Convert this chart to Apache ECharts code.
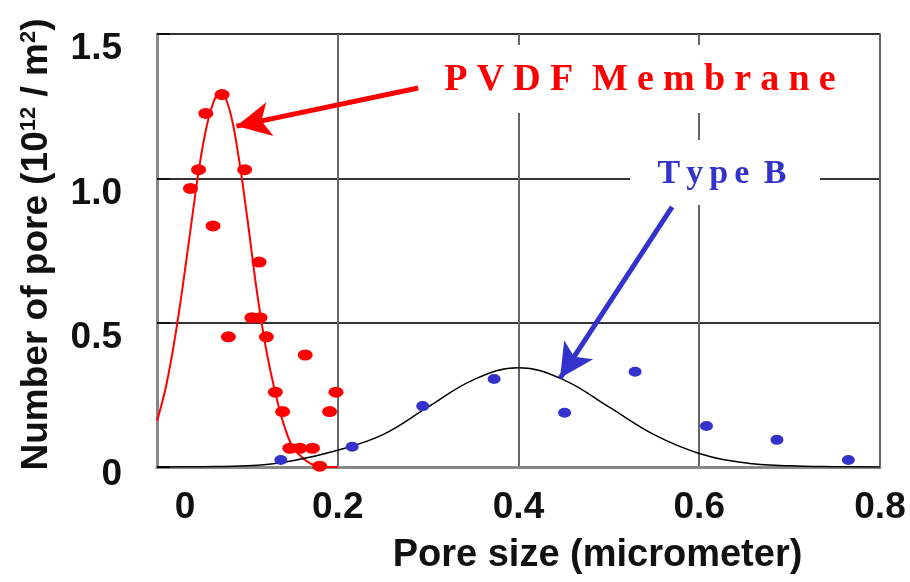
<!DOCTYPE html>
<html>
<head>
<meta charset="utf-8">
<script src="https://cdn.jsdelivr.net/npm/echarts@6/dist/echarts.min.js"></script>
<style>html,body{margin:0;padding:0;background:#fff}#c{width:910px;height:582px}</style>
</head>
<body>
<div id="c"></div>
<script>
// ---- data ----
const xTicks = [0, 0.2, 0.4, 0.6, 0.8];
const yTicks = [0, 0.5, 1.0, 1.5];
const pvdfPoints = [
  [0.037, 0.965], [0.046, 1.03], [0.054, 1.225], [0.072, 1.29], [0.062, 0.835],
  [0.097, 1.03], [0.113, 0.71], [0.105, 0.517], [0.114, 0.517], [0.079, 0.451],
  [0.121, 0.451], [0.131, 0.259], [0.139, 0.192], [0.147, 0.065], [0.158, 0.065],
  [0.172, 0.065], [0.164, 0.388], [0.180, 0.003], [0.191, 0.192], [0.198, 0.259]
];
const pvdfCurve = [
  [0.00, 0.16], [0.01, 0.28], [0.02, 0.45], [0.03, 0.66], [0.04, 0.89], [0.05, 1.10],
  [0.06, 1.24], [0.07, 1.30], [0.08, 1.24], [0.09, 1.08], [0.10, 0.86], [0.11, 0.62],
  [0.12, 0.42], [0.13, 0.27], [0.14, 0.15], [0.15, 0.07], [0.16, 0.035], [0.17, 0.012],
  [0.18, 0.002], [0.19, 0.0], [0.20, 0.0]
];
const typeBPoints = [
  [0.137, 0.024], [0.216, 0.070], [0.294, 0.211], [0.373, 0.305], [0.451, 0.188],
  [0.529, 0.330], [0.608, 0.142], [0.686, 0.094], [0.765, 0.024]
];
const typeBCurve = [
  [0.00, 0.000], [0.05, 0.001], [0.10, 0.004], [0.15, 0.022], [0.20, 0.058],
  [0.25, 0.112], [0.30, 0.208], [0.35, 0.302], [0.40, 0.344], [0.45, 0.302],
  [0.50, 0.208], [0.55, 0.112], [0.60, 0.047], [0.65, 0.015], [0.70, 0.004],
  [0.75, 0.001], [0.80, 0.000]
];
const pvdfArrow = [[0.289, 1.313], [0.088, 1.181]];
const typeBArrow = [[0.570, 0.901], [0.446, 0.308]];
const pvdfLabel = 'PVDF Membrane';
const typeBLabel = 'Type B';

const RED = '#ff0000';
const BLUE = '#3333cc';
const ELLIPSE = 'path://M-1,0a1,1 0 1,0 2,0a1,1 0 1,0 -2,0';

function spaced(txt, style) {
  return txt.split('').map(ch => ch === ' ' ? '{w| }' : '{' + style + '|' + ch + '}').join('');
}

const chart = echarts.init(document.getElementById('c'), null, {renderer: 'canvas'});
const axisFont = {fontFamily: 'Liberation Sans', fontWeight: 'bold', fontSize: 37, color: '#111'};
chart.setOption({
  animation: false,
  backgroundColor: '#fff',
  grid: {left: 157, right: 30, top: 34, bottom: 115, show: true, borderColor: '#888', borderWidth: 2, backgroundColor: 'transparent'},
  xAxis: {
    type: 'value', min: xTicks[0], max: xTicks[xTicks.length - 1], interval: 0.2,
    name: 'Pore size (micrometer)', nameLocation: 'middle', nameGap: 70,
    nameTextStyle: Object.assign({}, axisFont, {fontSize: 38, padding: [0, 0, 0, 158]}),
    axisLine: {show: true, lineStyle: {color: '#888', width: 3}},
    axisTick: {show: false},
    splitLine: {show: true, lineStyle: {color: '#666', width: 2}},
    axisLabel: Object.assign({}, axisFont, {
      margin: 22,
      formatter: v => v === 0 ? '{z|0}' : v.toFixed(1),
      rich: {z: Object.assign({}, axisFont, {padding: [0, 0, 0, 56]})}
    })
  },
  yAxis: {
    type: 'value', min: yTicks[0], max: yTicks[yTicks.length - 1], interval: 0.5,
    name: 'Number of pore (10{sup|12} / m{sup|2})', nameLocation: 'middle', nameGap: 102, nameRotate: 90,
    nameTextStyle: Object.assign({}, axisFont, {
      padding: [0, 0, 0, 12],
      rich: {sup: {fontFamily: 'Liberation Sans', fontWeight: 'bold', fontSize: 22, color: '#111', verticalAlign: 'top'}}
    }),
    axisLine: {show: true, lineStyle: {color: '#888', width: 3}},
    axisTick: {show: true, inside: true, length: 13, lineStyle: {color: '#111', width: 2}},
    splitLine: {show: true, lineStyle: {color: '#333', width: 2}},
    axisLabel: Object.assign({}, axisFont, {
      margin: 35, verticalAlign: 'top',
      formatter: v => v === 0 ? '{z|0}' : '{a|' + v.toFixed(1) + '}',
      rich: {
        z: Object.assign({}, axisFont, {lineHeight: 16}),
        a: Object.assign({}, axisFont, {lineHeight: 30})
      }
    })
  },
  graphic: [
    {type: 'rect', z: 10, shape: {x: 430, y: 45, width: 420, height: 68}, style: {fill: '#fff'}},
    {type: 'rect', z: 10, shape: {x: 630, y: 140, width: 190, height: 65}, style: {fill: '#fff'}},
    {type: 'text', z: 11, x: 640, y: 80, style: {
      text: spaced(pvdfLabel, 'c'), align: 'center', verticalAlign: 'middle',
      rich: {
        c: {fontFamily: 'Liberation Serif', fontWeight: 'bold', fontSize: 38, fill: RED, padding: [0, 4.6, 0, 4.6]},
        w: {fontFamily: 'Liberation Serif', fontWeight: 'bold', fontSize: 38, fill: RED}
      }
    }},
    {type: 'text', z: 11, x: 722, y: 174, style: {
      text: spaced(typeBLabel, 'c'), align: 'center', verticalAlign: 'middle',
      rich: {
        c: {fontFamily: 'Liberation Serif', fontWeight: 'bold', fontSize: 34, fill: BLUE, padding: [0, 3, 0, 3]},
        w: {fontFamily: 'Liberation Serif', fontWeight: 'bold', fontSize: 34, fill: BLUE}
      }
    }}
  ],
  series: [
    {
      name: 'PVDF fit', type: 'line', data: pvdfCurve, smooth: 0.4, showSymbol: false,
      lineStyle: {color: RED, width: 2}, silent: true, z: 3
    },
    {
      name: 'Type B fit', type: 'line', data: typeBCurve, smooth: 0.4, showSymbol: false,
      lineStyle: {color: '#000', width: 1.5}, silent: true, z: 3
    },
    {
      name: pvdfLabel, type: 'scatter', data: pvdfPoints, symbol: ELLIPSE, symbolSize: [15, 11],
      itemStyle: {color: RED, opacity: 1}, z: 4,
      markLine: {
        silent: true, symbol: ['none', 'arrow'], symbolSize: [26, 34], label: {show: false},
        lineStyle: {color: RED, width: 5, type: 'solid'},
        data: [[{coord: pvdfArrow[0]}, {coord: pvdfArrow[1]}]]
      }
    },
    {
      name: typeBLabel, type: 'scatter', data: typeBPoints, symbol: ELLIPSE, symbolSize: [13, 10],
      itemStyle: {color: BLUE, opacity: 1}, z: 4,
      markLine: {
        silent: true, symbol: ['none', 'arrow'], symbolSize: [26, 34], label: {show: false},
        lineStyle: {color: BLUE, width: 5, type: 'solid'},
        data: [[{coord: typeBArrow[0]}, {coord: typeBArrow[1]}]]
      }
    }
  ]
});
</script>
</body>
</html>
